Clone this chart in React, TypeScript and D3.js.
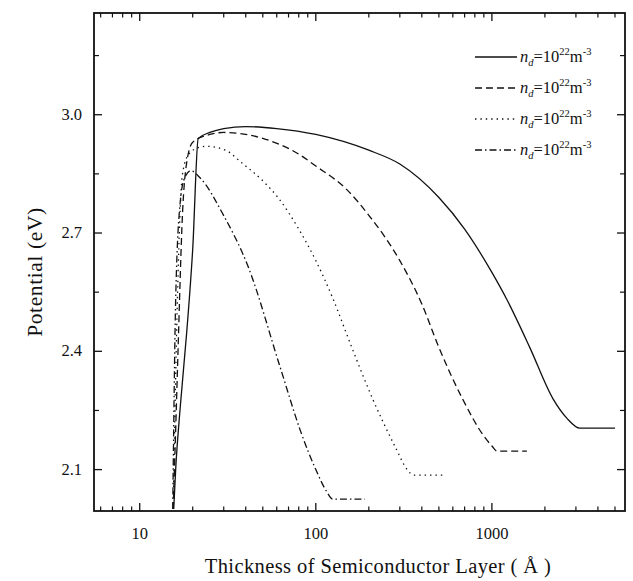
import React from "react";
import * as d3 from "d3";

const W = 633, H = 581;
const M = { left: 94, right: 625, top: 13, bottom: 511 };
const xDomain = [5.5, 5700];
const yDomain = [1.995, 3.258];

const xMajorTicks = [10, 100, 1000];
const xTickLabels = ["10", "100", "1000"];
const yMajorTicks = [2.1, 2.4, 2.7, 3.0];
const yTickLabels = ["2.1", "2.4", "2.7", "3.0"];
const yMinorTicks = [2.25, 2.55, 2.85, 3.15];

const solidX = [15.6, 16, 17, 18.5, 20, 21.5, 25, 30, 40, 60, 100, 200, 300, 500, 700, 1000, 1220, 1640, 2220, 2670, 3160, 5000];
const solidY = [2.0, 2.1, 2.26, 2.45, 2.66, 2.94, 2.955, 2.965, 2.97, 2.965, 2.95, 2.91, 2.875, 2.79, 2.71, 2.6, 2.53, 2.41, 2.28, 2.23, 2.205, 2.205];

const dashX = [15.5, 16, 16.5, 17.5, 18.5, 20, 25, 30, 50, 80, 100, 150, 200, 300, 400, 500, 680, 900, 1000, 1070, 1580];
const dashY = [2.0, 2.2, 2.4, 2.75, 2.88, 2.93, 2.95, 2.955, 2.94, 2.9, 2.87, 2.81, 2.745, 2.63, 2.52, 2.41, 2.28, 2.185, 2.16, 2.147, 2.147];

const dotX = [15.5, 16.3, 17.5, 19, 22, 24, 30.8, 37.5, 50.6, 61, 80, 100, 125, 160, 210, 285, 330, 360, 548];
const dotY = [2.0, 2.5, 2.85, 2.9, 2.918, 2.92, 2.91, 2.88, 2.83, 2.79, 2.71, 2.63, 2.534, 2.41, 2.28, 2.154, 2.1, 2.086, 2.086];

const dashDotX = [15.4, 16, 17, 18, 19.5, 22, 30, 41, 63, 82, 100, 115, 125, 190];
const dashDotY = [2.0, 2.53, 2.78, 2.84, 2.858, 2.84, 2.744, 2.618, 2.357, 2.197, 2.1, 2.045, 2.025, 2.025];

const seriesLabels = ["1", "2", "3", "4"];
const dashes = ["none", "7,4", "1.4,4", "7,3,1.5,3"];

export default function App() {
  const x = d3.scaleLog().domain(xDomain).range([M.left, M.right]);
  const y = d3.scaleLinear().domain(yDomain).range([M.bottom, M.top]);
  const line = d3
    .line<[number, number]>()
    .x((d) => x(d[0]))
    .y((d) => y(d[1]))
    .curve(d3.curveMonotoneX);

  const series = [
    { xs: solidX, ys: solidY },
    { xs: dashX, ys: dashY },
    { xs: dotX, ys: dotY },
    { xs: dashDotX, ys: dashDotY },
  ];

  const xMinor: number[] = [];
  for (const dec of [1, 10, 100, 1000]) {
    for (let k = 2; k <= 9; k++) {
      const v = k * dec;
      if (v >= xDomain[0] && v <= xDomain[1] && !xMajorTicks.includes(v)) xMinor.push(v);
    }
  }

  const font = "'Liberation Serif', 'Times New Roman', serif";
  const legendY0 = 57;
  const legendDy = 31;

  return (
    <svg width={W} height={H} style={{ position: "absolute", left: 0, top: 0, background: "#fff" }} fontFamily={font}>
      <rect x={0} y={0} width={W} height={H} fill="#fff" />
      <defs>
        <clipPath id="clip">
          <rect x={M.left} y={M.top} width={M.right - M.left} height={M.bottom - M.top} />
        </clipPath>
      </defs>
      <g clipPath="url(#clip)">
        {series.map((s, i) => (
          <path
            key={i}
            d={line(s.xs.map((v, j) => [v, s.ys[j]] as [number, number])) || ""}
            fill="none"
            stroke="#111"
            strokeWidth={1.3}
            strokeDasharray={dashes[i]}
          />
        ))}
      </g>
      {/* frame */}
      <rect x={M.left} y={M.top} width={M.right - M.left} height={M.bottom - M.top} fill="none" stroke="#111" strokeWidth={1.8} />
      {/* x ticks */}
      {xMajorTicks.map((v, i) => (
        <g key={"xm" + v}>
          <line x1={x(v)} x2={x(v)} y1={M.bottom} y2={M.bottom - 8} stroke="#111" strokeWidth={1.3} />
          <line x1={x(v)} x2={x(v)} y1={M.top} y2={M.top + 8} stroke="#111" strokeWidth={1.3} />
          <text x={x(v)} y={M.bottom + 28} textAnchor="middle" fontSize={16.5} fill="#111">{xTickLabels[i]}</text>
        </g>
      ))}
      {xMinor.map((v) => (
        <g key={"xn" + v}>
          <line x1={x(v)} x2={x(v)} y1={M.bottom} y2={M.bottom - 4.5} stroke="#111" strokeWidth={1.2} />
          <line x1={x(v)} x2={x(v)} y1={M.top} y2={M.top + 4.5} stroke="#111" strokeWidth={1.2} />
        </g>
      ))}
      {/* y ticks */}
      {yMajorTicks.map((v, i) => (
        <g key={"ym" + v}>
          <line x1={M.left} x2={M.left + 8} y1={y(v)} y2={y(v)} stroke="#111" strokeWidth={1.3} />
          <line x1={M.right} x2={M.right - 8} y1={y(v)} y2={y(v)} stroke="#111" strokeWidth={1.3} />
          <text x={M.left - 12} y={y(v) + 5} textAnchor="end" fontSize={16.5} fill="#111">{yTickLabels[i]}</text>
        </g>
      ))}
      {yMinorTicks.map((v) => (
        <g key={"yn" + v}>
          <line x1={M.left} x2={M.left + 5} y1={y(v)} y2={y(v)} stroke="#111" strokeWidth={1.2} />
          <line x1={M.right} x2={M.right - 5} y1={y(v)} y2={y(v)} stroke="#111" strokeWidth={1.2} />
        </g>
      ))}
      {/* axis titles */}
      <text x={378} y={573} textAnchor="middle" fontSize={20.5} letterSpacing={0.4} fill="#111">
        Thickness of Semiconductor Layer ( Å )
      </text>
      <text
        transform={`translate(42, 272) rotate(-90)`}
        textAnchor="middle"
        fontSize={21.5}
        letterSpacing={0.6}
        fill="#111"
      >
        Potential (eV)
      </text>
      {/* legend */}
      {seriesLabels.map((lab, i) => {
        const ly = legendY0 + i * legendDy;
        return (
          <g key={"lg" + lab}>
            <line x1={475} x2={517} y1={ly} y2={ly} stroke="#111" strokeWidth={1.3} strokeDasharray={dashes[i]} />
            <text x={520} y={ly + 5} fontSize={16.5} fill="#111">
              <tspan fontStyle="italic">n</tspan>
              <tspan fontStyle="italic" fontSize={10.5} dy={4}>d</tspan>
              <tspan dy={-4}>=10</tspan>
              <tspan fontSize={10.5} dy={-7}>22</tspan>
              <tspan dy={7}>m</tspan>
              <tspan fontSize={10.5} dy={-7}>-3</tspan>
            </text>
          </g>
        );
      })}
    </svg>
  );
}
